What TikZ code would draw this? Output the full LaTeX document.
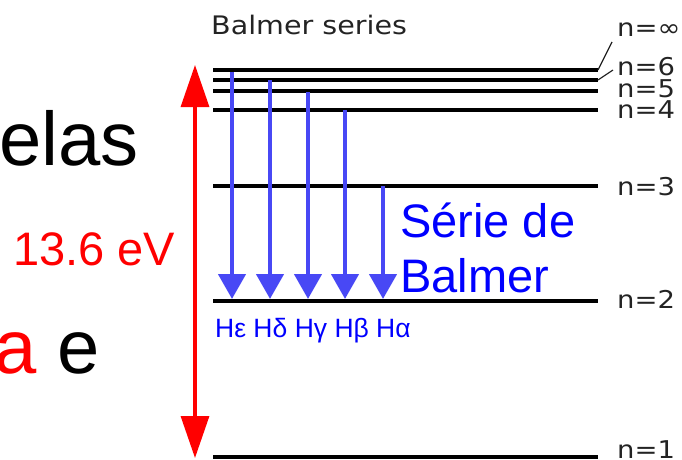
\documentclass[tikz,border=0pt]{standalone}
\usepackage{fontspec}
\setmainfont{Liberation Sans}
\newfontfamily\balfont[FakeStretch=1.12]{DejaVu Sans}
\usetikzlibrary{arrows.meta}
\definecolor{arrowblue}{RGB}{72,72,245}
\definecolor{labgray}{RGB}{35,35,35}
\begin{document}
\begin{tikzpicture}[x=1pt,y=-1pt,
  level/.style={line width=3.4pt, black},
  trans/.style={arrowblue, line width=4.5pt, -{Triangle[width=27pt,length=25pt]}},
  energy/.style={red, line width=3.2pt, {Triangle[width=28pt,length=42pt]}-{Triangle[width=28pt,length=42pt]}},
  nlab/.style={anchor=base west, inner sep=0pt, font=\balfont\fontsize{24.5}{24.5}\selectfont, text=labgray},
  leader/.style={labgray, line width=1.2pt},
  big/.style={anchor=base west, inner sep=0pt, font=\fontsize{76}{76}\selectfont},
  serie/.style={anchor=base west, inner sep=0pt, text=blue, font=\fontsize{47}{47}\selectfont},
]
\useasboundingbox (0,0) rectangle (682,460);
% energy levels
\foreach \n/\y in {inf/70, six/80, five/91, four/110, three/186, two/301, one/457}{
  \coordinate (L\n) at (213,\y);
  \coordinate (R\n) at (598,\y);
  \draw[level] (L\n) -- (R\n);
}
% level labels
\node[nlab] (ninf) at (617,37) {n=∞};
\node[nlab] (nsix) at (617,75) {n=6};
\node[nlab] (nfive) at (617,97) {n=5};
\node[nlab] (nfour) at (617,118) {n=4};
\node[nlab] (nthree) at (617,195) {n=3};
\node[nlab] (ntwo) at (617,308) {n=2};
\node[nlab] (none) at (617,458) {n=1};
\coordinate (linf) at (612,42);
\coordinate (lsix) at (613,70);
\draw[leader] (linf) -- (Rinf);
\draw[leader] (lsix) -- (Rsix);
% title
\node[anchor=base west, inner sep=0pt, font=\balfont\fontsize{25.5}{25.5}\selectfont, text=labgray] (title) at (211,35) {Balmer series};
% Balmer transitions
\foreach \k/\x/\y in {e/232/72, d/270/80, g/308/92, b/345/110, a/383/186}{
  \coordinate (s\k) at (\x,\y);
  \coordinate (t\k) at (\x,299);
  \draw[trans] (s\k) -- (t\k);
}
\node[anchor=base west, inner sep=0pt, text=blue, font=\fontsize{26.5}{26.5}\selectfont] (hlab) at (215,337) {Hε Hδ Hγ Hβ Hα};
\node[serie] (serie1) at (400,237) {Série de};
\node[serie] (serie2) at (400,292) {Balmer};
% ionisation energy
\coordinate (etop) at (195,65);
\coordinate (ebot) at (195,458);
\draw[energy] (etop) -- (ebot);
\node[anchor=base west, inner sep=0pt, text=red, font=\fontsize{47}{47}\selectfont] (ev) at (13,265) {13.6 eV};
% cut-off slide text
\node[big] (elas) at (-1,165) {elas};
\node[big] (ae) at (-6,373) {{\color{red}a} e};
\end{tikzpicture}
\end{document}
